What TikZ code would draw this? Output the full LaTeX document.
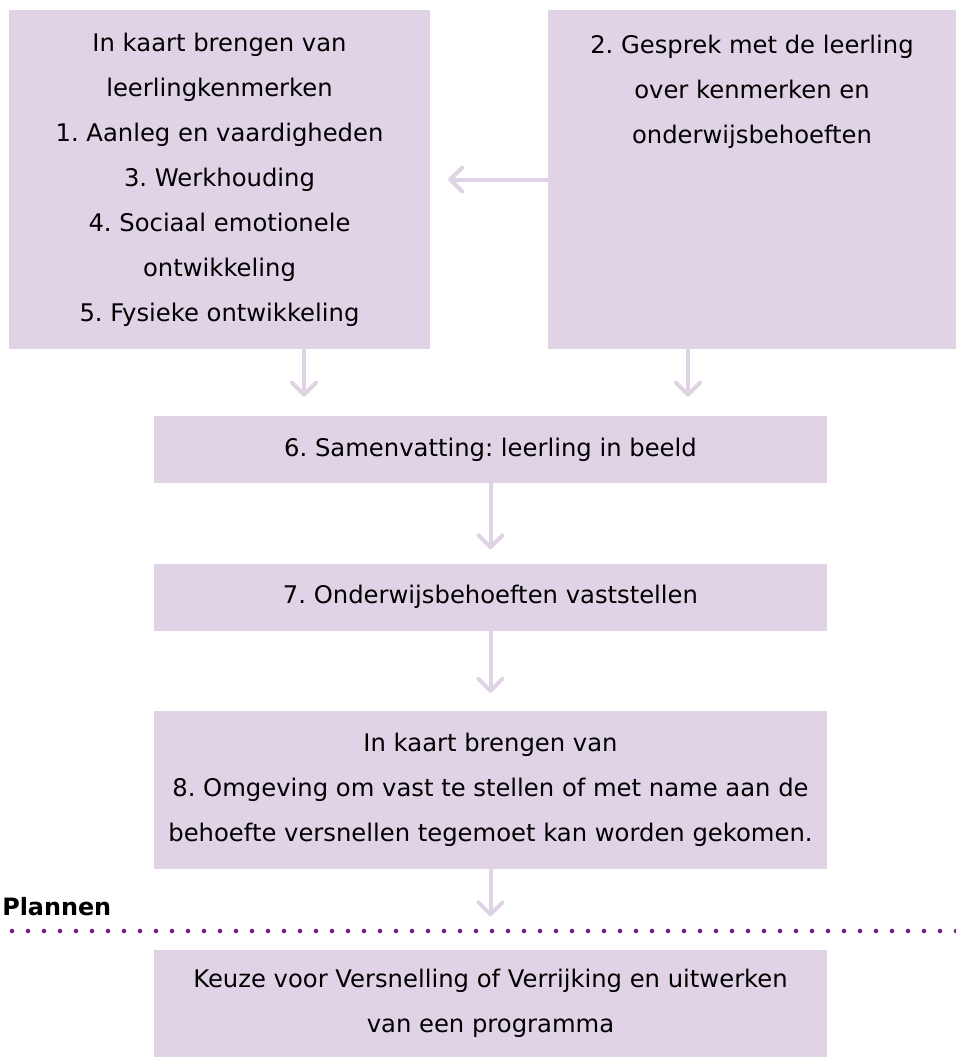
\documentclass[tikz,border=0pt]{standalone}
\usepackage{fontspec}
\setmainfont{DejaVu Sans}
\usetikzlibrary{arrows.meta,chains,positioning}
\definecolor{lila}{RGB}{224,211,230}
\definecolor{paars}{RGB}{112,32,130}
\frenchspacing

\tikzset{
  blok/.style={fill=lila, inner sep=0pt, align=center,
    font=\fontsize{18.2pt}{33.75pt}\selectfont},
  breed/.style={minimum width=504.75pt},
  pijl/.style={draw=lila, line width=3pt,
    -{Straight Barb[length=9pt,width=18pt,round]}},
}

\begin{document}
\begin{tikzpicture}[x=0.75pt,y=-0.75pt]
\useasboundingbox (0,0) rectangle (956,1057);

% bovenste rij
\node[blok, minimum width=315.75pt, minimum height=254.25pt] (kaart) at (219.5,179.5)
  {In kaart brengen van\\leerlingkenmerken\\1. Aanleg en vaardigheden\\3. Werkhouding\\4. Sociaal emotionele\\ontwikkeling\\5. Fysieke ontwikkeling};
\node[blok, minimum width=306pt, minimum height=254.25pt] (gesprek) at (752,179.5)
  {2. Gesprek met de leerling\\over kenmerken en\\onderwijsbehoeften\\~\\~\\~\\~};

% stappen onder elkaar
\begin{scope}[start chain=going below,node distance=60pt]
\node[blok, breed, on chain, minimum height=50.25pt] (samenv) at (490.5,449.5)
  {6. Samenvatting: leerling in beeld};
\node[blok, breed, on chain, minimum height=50.25pt] (onderw)
  {7. Onderwijsbehoeften vaststellen};
\node[blok, breed, on chain, minimum height=118.5pt] (omgev)
  {In kaart brengen van\\8. Omgeving om vast te stellen of met name aan de\\behoefte versnellen tegemoet kan worden gekomen.};
\node[blok, breed, on chain, minimum height=81pt] (keuze)
  {Keuze voor Versnelling of Verrijking en uitwerken\\van een programma};
\end{scope}

\draw[pijl, shorten >=13.5pt] (gesprek.west) -- (kaart.east);
\draw[pijl, shorten >=14.25pt] ([xshift=63.4pt]kaart.south) -- ([xshift=63.4pt]kaart.south |- samenv.north);
\draw[pijl, shorten >=14.25pt] ([xshift=-48pt]gesprek.south) -- ([xshift=-48pt]gesprek.south |- samenv.north);
\draw[pijl, shorten >=10.5pt] (samenv) -- (onderw);
\draw[pijl, shorten >=13.5pt] (onderw) -- (omgev);
\draw[pijl, shorten >=24.75pt] (omgev) -- (keuze);

% scheiding plannen
\node[anchor=base west, inner sep=0pt, font=\bfseries\fontsize{17.9pt}{20pt}\selectfont] (plannen) at (2,915) {Plannen};
\draw[paars, line width=3.4pt, line cap=round, dash pattern=on 0pt off 12pt] (12,931) -- (956,931);

\end{tikzpicture}
\end{document}
